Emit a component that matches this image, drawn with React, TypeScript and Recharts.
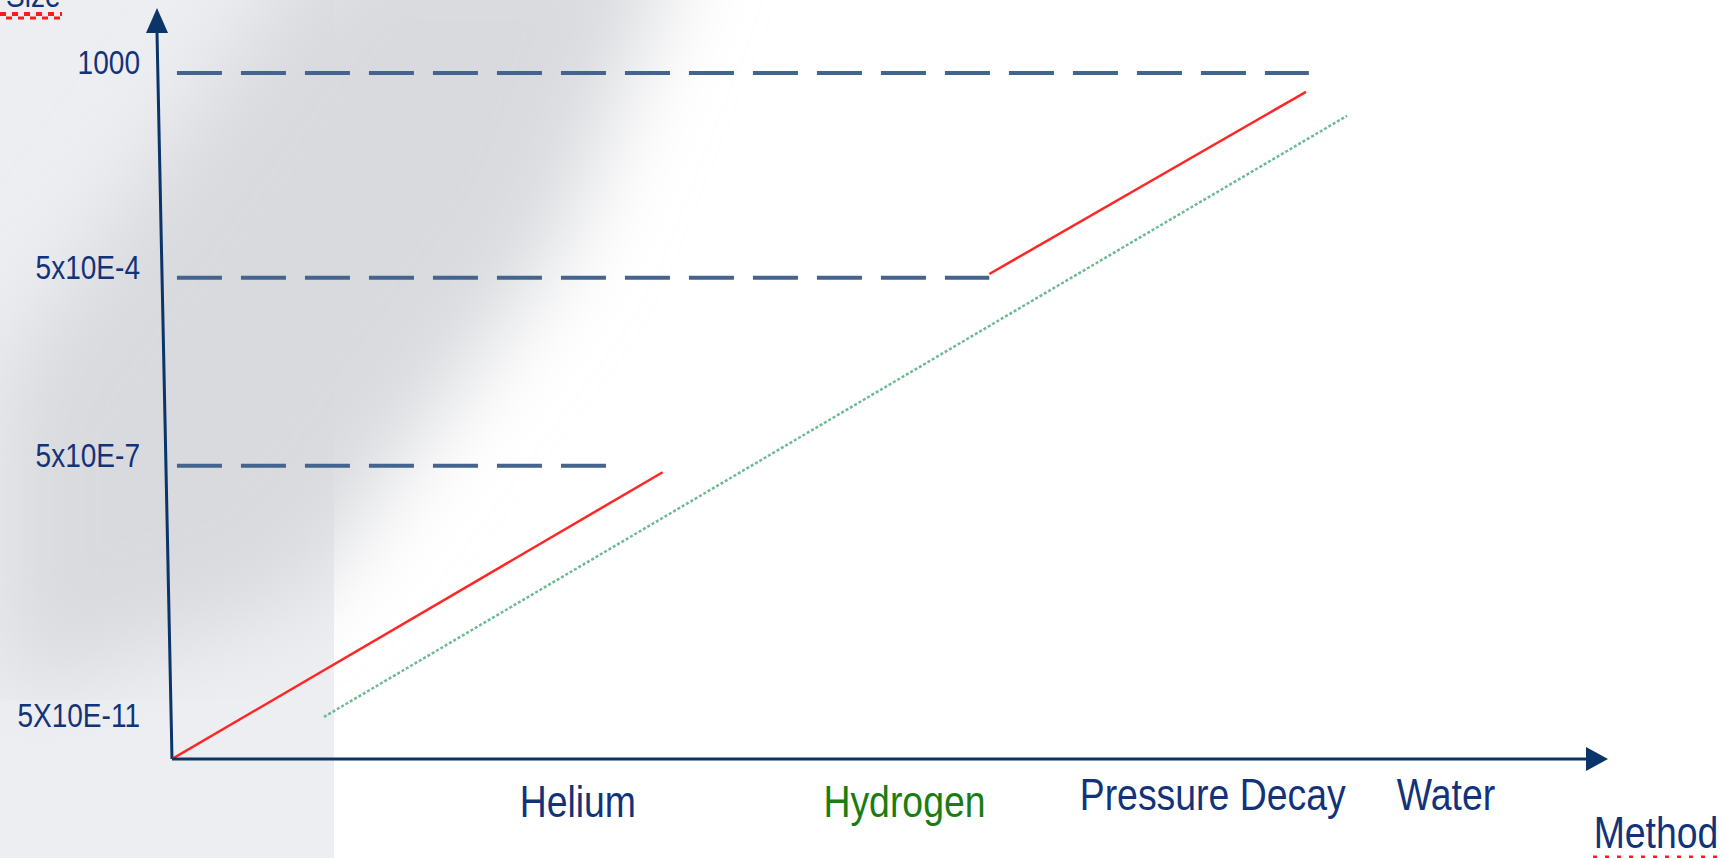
import React from "react";
import { LineChart, Line, XAxis, YAxis, ReferenceLine, ReferenceDot } from "recharts";

// methods along the x axis (position in axis units 0-100)
const methods = ["Helium", "Hydrogen", "Pressure Decay", "Water"];
const methodPos = [28.7, 51.8, 73.6, 90.1];

// leak rate labels on the y axis (position in axis units 0-100)
const rateLabels = ["5X10E-11", "5x10E-7", "5x10E-4", "1000"];
const ratePos = [4.6, 40.4, 66.3, 94.5];

// dashed limit lines: level and where each one stops
const limitLevels = [40.4, 66.3, 94.5];
const limitStart = 0.35;
const limitEnds = [30.8, 57.8, 80.4];

// red ranges and the green hydrogen trend
const heliumRange = [
  { x: 0, y: 0 },
  { x: 34.7, y: 39.5 },
];
const decayRange = [
  { x: 57.8, y: 66.8 },
  { x: 80.2, y: 91.9 },
];
const hydrogenTrend = [
  { x: 10.75, y: 5.8 },
  { x: 83.1, y: 88.6 },
];

// top of the (slightly leaning) y axis
const yAxisTop = { x: -1.06, y: 100 };

const NAVY = "#0b3468";
const TEXT = "#12337a";
const FONT = "'Liberation Sans', Arial, sans-serif";

function Narrow({ x, y, text, size, fill, anchor }: any) {
  return (
    <g transform={`translate(${x},${y}) scale(0.85,1)`}>
      <text x={0} y={0} fontSize={size} fill={fill} textAnchor={anchor} fontFamily={FONT}>
        {text}
      </text>
    </g>
  );
}

const XTick = (props: any) => {
  const { x, y, index } = props;
  const name = methods[index];
  const low = name === "Helium" || name === "Hydrogen";
  return (
    <Narrow
      x={x}
      y={y + (low ? 58 : 51)}
      text={name}
      size={44}
      fill={name === "Hydrogen" ? "#1a7d12" : TEXT}
      anchor="middle"
    />
  );
};

const YTick = (props: any) => {
  const { x, y, index } = props;
  return <Narrow x={x} y={y + 1} text={rateLabels[index]} size={33} fill={TEXT} anchor="end" />;
};

export default function App() {
  return (
    <div style={{ position: "absolute", left: 0, top: 0, width: 1725, height: 858, overflow: "hidden" }}>
      <svg width={1725} height={858} style={{ position: "absolute", left: 0, top: 0 }}>
        <defs>
          <filter id="soft" x="-50%" y="-50%" width="200%" height="200%">
            <feGaussianBlur stdDeviation="45" />
          </filter>
        </defs>
        <rect x={0} y={0} width={1725} height={858} fill="#ffffff" />
        <rect x={0} y={0} width={334} height={858} fill="#edeef1" />
        <polygon points="330,-80 690,-80 560,250 300,600 0,700 0,380" fill="#d9dade" filter="url(#soft)" />
        <rect x={0} y={700} width={334} height={158} fill="#edeef1" opacity={0.6} />
      </svg>
      <div style={{ position: "absolute", left: 0, top: 0 }}>
        <LineChart width={1725} height={858} margin={{ top: 33, right: 139, bottom: 0, left: 0 }}>
          <XAxis
            type="number"
            dataKey="x"
            domain={[0, 100]}
            ticks={methodPos}
            interval={0}
            height={99}
            tickSize={0}
            tickMargin={0}
            tickLine={false}
            axisLine={{ stroke: NAVY, strokeWidth: 3 }}
            tick={<XTick />}
            allowDataOverflow
          />
          <YAxis
            type="number"
            dataKey="y"
            domain={[0, 100]}
            ticks={ratePos}
            interval={0}
            width={172}
            tickSize={0}
            tickMargin={32}
            tickLine={false}
            axisLine={false}
            tick={<YTick />}
            allowDataOverflow
          />
          {limitLevels.map((lvl, i) => (
            <ReferenceLine
              key={i}
              segment={[
                { x: limitStart, y: lvl },
                { x: limitEnds[i], y: lvl },
              ]}
              stroke="#43648e"
              strokeWidth={4}
              strokeDasharray="45 19"
              ifOverflow="visible"
            />
          ))}
          <ReferenceLine
            segment={[{ x: 0, y: 0 }, yAxisTop]}
            stroke={NAVY}
            strokeWidth={3}
            ifOverflow="visible"
          />
          <ReferenceDot
            x={yAxisTop.x}
            y={yAxisTop.y}
            ifOverflow="visible"
            shape={(p: any) => (
              <polygon points={`${p.cx - 11},${p.cy} ${p.cx + 11},${p.cy} ${p.cx},${p.cy - 25}`} fill={NAVY} />
            )}
          />
          <ReferenceDot
            x={100}
            y={0}
            ifOverflow="visible"
            shape={(p: any) => (
              <polygon points={`${p.cx},${p.cy - 12} ${p.cx},${p.cy + 12} ${p.cx + 22},${p.cy}`} fill={NAVY} />
            )}
          />
          <Line
            data={hydrogenTrend}
            dataKey="y"
            type="linear"
            stroke="#6dba93"
            strokeWidth={2.5}
            strokeDasharray="3 2"
            dot={false}
            isAnimationActive={false}
          />
          <Line
            data={heliumRange}
            dataKey="y"
            type="linear"
            stroke="#ff2626"
            strokeWidth={2.5}
            dot={false}
            isAnimationActive={false}
          />
          <Line
            data={decayRange}
            dataKey="y"
            type="linear"
            stroke="#ff2626"
            strokeWidth={2.5}
            dot={false}
            isAnimationActive={false}
          />
        </LineChart>
      </div>
      <svg width={1725} height={858} style={{ position: "absolute", left: 0, top: 0, pointerEvents: "none" }}>
        <Narrow x={6} y={7} text="Size" size={33} fill={TEXT} anchor="start" />
        <line x1={0} y1={14} x2={62} y2={14} stroke="#ff1a1a" strokeWidth={4} strokeDasharray="6 6" />
        <line x1={6} y1={18} x2={62} y2={18} stroke="#ff1a1a" strokeWidth={3} strokeDasharray="6 6" />
        <Narrow x={1656} y={848} text="Method" size={44} fill={TEXT} anchor="middle" />
        <line x1={1593} y1={857} x2={1725} y2={857} stroke="#ff1a1a" strokeWidth={3} strokeDasharray="4 8" />
      </svg>
    </div>
  );
}
